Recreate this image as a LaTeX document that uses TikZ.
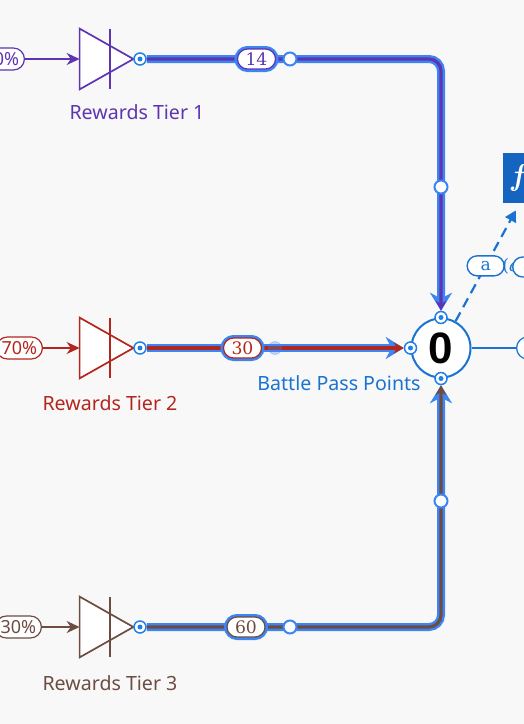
\documentclass[tikz,border=0pt]{standalone}
\usepackage{fontspec}
\newfontfamily\uisans{Noto Sans}
\newfontfamily\numsans{Liberation Sans}
\newfontfamily\slab{DejaVu Serif}
\usetikzlibrary{positioning,arrows.meta,calc}

\definecolor{paper}{HTML}{F8F8F9}
\definecolor{tierone}{HTML}{5E35B1}
\definecolor{tiertwo}{HTML}{B3261E}
\definecolor{tierthree}{HTML}{6D4C41}
\definecolor{poolblue}{HTML}{1A73D0}
\definecolor{hlblue}{HTML}{3D85F2}
\definecolor{portblue}{HTML}{1E80E8}
\definecolor{fnblue}{HTML}{1565C0}

\begin{document}
\begin{tikzpicture}[
    x=0.5pt, y=-0.5pt,
    gate/.style={minimum width=26.5pt, minimum height=30pt, inner sep=0pt},
    gateline/.style={line width=0.85pt, line join=miter},
    tierlbl/.style={inner sep=0pt, font=\uisans\fontsize{9.8}{11}\selectfont},
    ratepill/.style={draw, fill=white, rounded corners=5.5pt, line width=0.6pt,
                     minimum width=23pt, minimum height=11pt, inner sep=1pt,
                     font=\uisans\fontsize{9}{10}\selectfont},
    flowpill/.style={draw, fill=white, rounded corners=5pt, line width=0.6pt,
                     minimum width=19pt, minimum height=10pt, inner sep=1pt,
                     font=\slab\fontsize{8.6}{10}\selectfont,
                     preaction={draw=hlblue, line width=3pt}},
    notepill/.style={solid, draw=poolblue, fill=white, rounded corners=5pt, line width=0.7pt,
                     minimum width=18.5pt, minimum height=10pt, inner sep=1pt,
                     text=poolblue, font=\slab\fontsize{8.6}{10}\selectfont},
    port/.style={circle, draw=portblue, fill=white, line width=0.75pt,
                 minimum size=6pt, inner sep=0pt,
                 path picture={\fill[portblue] (path picture bounding box.center) circle (1.25pt);}},
    waypt/.style={circle, draw=hlblue, fill=white, line width=1pt,
                  minimum size=6.5pt, inner sep=0pt},
    feed/.style={->, >={Stealth[length=6.5pt, width=6pt]}, line width=0.85pt},
    glow/.style={draw=hlblue, line width=4pt, rounded corners=6pt,
                 -{Stealth[length=9pt, width=11pt]}},
    flow/.style={line width=1.6pt, rounded corners=6pt,
                 -{Stealth[length=5pt, width=5.5pt]}},
  ]
  \useasboundingbox (0,0) rectangle (524,724);
  \fill[paper] (0,0) rectangle (524,724);
  \clip (0,0) rectangle (524,724);

  % --- pool ---
  \node[circle, draw=poolblue, fill=white, line width=1pt, minimum size=29.5pt,
        inner sep=0pt, font=\numsans\bfseries\fontsize{22}{26}\selectfont] (pool) at (441,348) {0};
  \node[port] (ptop) at (pool.north) {};
  \node[port] (pleft) at (pool.west) {};
  \node[port] (pbot) at (pool.south) {};
  \node[tierlbl, text=poolblue] (poollbl) at (339,383) {Battle Pass Points};

  % --- Rewards Tier 1 ---
  \node[gate] (g1) at (106.5,59) {};
  \draw[gateline, tierone, fill=white] (g1.north west) -- (g1.east) -- (g1.south west) -- cycle;
  \draw[gateline, tierone] ($(g1.north west)!.57!(g1.north east)$) -- ($(g1.south west)!.57!(g1.south east)$);
  \node[ratepill, draw=tierone, text=tierone, anchor=east] (r1) at (25,59) {50\%};
  \draw[feed, tierone] (r1) -- (g1);
  \node[port] (o1) at (140,59) {};
  \node[tierlbl, text=tierone] (l1) at (137,112) {Rewards Tier 1};
  \draw[glow] (o1) -- (o1 -| ptop) -- (ptop);
  \draw[flow, tierone] (o1) -- (o1 -| ptop) -- (ptop);
  \node[flowpill, draw=tierone, text=tierone] (v1) at (256.5,59) {14};
  \node[waypt] (w1a) at (290,59) {};
  \node[waypt] (w1b) at (441,187) {};

  % --- Rewards Tier 2 ---
  \node[gate] (g2) at (106.5,348) {};
  \draw[gateline, tiertwo, fill=white] (g2.north west) -- (g2.east) -- (g2.south west) -- cycle;
  \draw[gateline, tiertwo] ($(g2.north west)!.57!(g2.north east)$) -- ($(g2.south west)!.57!(g2.south east)$);
  \node[ratepill, draw=tiertwo, text=tiertwo, anchor=east] (r2) at (43,348) {70\%};
  \draw[feed, tiertwo] (r2) -- (g2);
  \node[port] (o2) at (140,348) {};
  \node[tierlbl, text=tiertwo] (l2) at (110,403) {Rewards Tier 2};
  \draw[glow] (o2) -- (pleft);
  \draw[flow, tiertwo] (o2) -- (pleft);
  \node[flowpill, draw=tiertwo, text=tiertwo] (v2) at (242.5,348) {30};
  \node[circle, fill=hlblue, draw=hlblue, opacity=.3, minimum size=6.5pt, inner sep=0pt] (w2a) at (275,348) {};

  % --- Rewards Tier 3 ---
  \node[gate] (g3) at (106.5,627) {};
  \draw[gateline, tierthree, fill=white] (g3.north west) -- (g3.east) -- (g3.south west) -- cycle;
  \draw[gateline, tierthree] ($(g3.north west)!.57!(g3.north east)$) -- ($(g3.south west)!.57!(g3.south east)$);
  \node[ratepill, draw=tierthree, text=tierthree, anchor=east] (r3) at (42,627) {30\%};
  \draw[feed, tierthree] (r3) -- (g3);
  \node[port] (o3) at (140,627) {};
  \node[tierlbl, text=tierthree] (l3) at (110,683) {Rewards Tier 3};
  \draw[glow] (o3) -- (o3 -| pbot) -- (pbot);
  \draw[flow, tierthree] (o3) -- (o3 -| pbot) -- (pbot);
  \node[flowpill, draw=tierthree, text=tierthree] (v3) at (246,627) {60};
  \node[waypt] (w3a) at (290,627) {};
  \node[waypt] (w3b) at (441,501) {};

  % --- output and formula ---
  \node[ratepill, draw=poolblue, anchor=west, minimum width=30pt] (pout) at (516,348) {};
  \draw[poolblue, line width=1pt] (pool) -- (pout);
  \node[fill=fnblue, text=white, anchor=west, text width=22pt, inner xsep=4pt,
        minimum height=25pt, font=\fontsize{15}{17}\selectfont] (fn) at (503,178) {\textbf{\textit{f}}};
  \draw[poolblue, line width=1.1pt, dash pattern=on 5pt off 3pt, shorten >=4pt,
        -{Triangle[length=5.5pt, width=6pt]}] (pool) -- (fn)
    node[notepill, pos=.47] (la) {a};
  \node[text=poolblue, anchor=west, inner sep=0pt, font=\slab\fontsize{8.6}{10}\selectfont] (argtxt) at (502,266) {(\textit{a}};
  \node[notepill, anchor=west] (argpill) at (512,267) {};
\end{tikzpicture}
\end{document}
